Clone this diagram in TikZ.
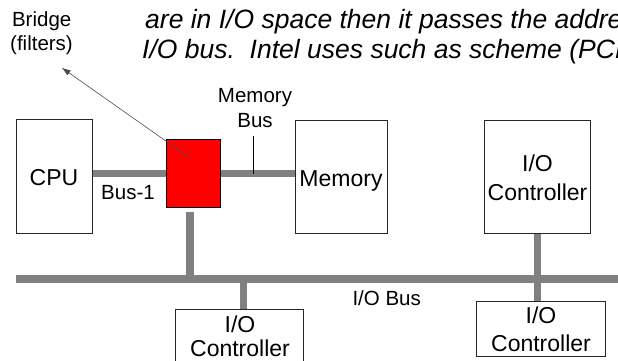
\documentclass[tikz,border=0pt]{standalone}
\usepackage{fontspec}
\setmainfont{Liberation Sans}
\usetikzlibrary{arrows.meta}
\pgfdeclarelayer{bg}
\pgfsetlayers{bg,main}
\begin{document}
\begin{tikzpicture}[x=1pt,y=-1pt,
  box/.style={draw=black!85, line width=0.9pt, fill=white, inner sep=0pt, rectangle},
  bridgebox/.style={draw=black, line width=1.1pt, fill=red, inner sep=0pt, rectangle},
  bar/.style={draw=gray, line width=7.5pt},
  tick/.style={draw=black, line width=1.3pt},
  pointer/.style={draw=black!70, line width=0.6pt, -{Latex[length=9pt,width=6pt]}},
  lbl/.style={font=\fontsize{20.5}{24}\selectfont, inner sep=0pt, anchor=base},
  boxtxt/.style={font=\fontsize{23}{28}\selectfont, inner sep=0pt, anchor=base},
  note/.style={font=\fontsize{26.5}{30}\selectfont\itshape, inner sep=0pt, anchor=base west}]
\useasboundingbox (0,0) rectangle (618,360);
\clip (0,0) rectangle (618,360);

% explanatory text (runs past the right edge)
\node[note] (note1) at (145,28) {are in I/O space then it passes the address to the};
\node[note] (note2) at (142,58.5) {I/O bus.\ \ Intel uses such as scheme (PCI).};

% units
\node[box, minimum width=76pt, minimum height=114pt] (cpu) at (54,176) {};
\node[bridgebox, minimum width=53.5pt, minimum height=68pt] (bridge) at (193.5,173.5) {};
\node[box, minimum width=92pt, minimum height=113pt] (mem) at (341,176.5) {};
\node[box, minimum width=106pt, minimum height=113pt] (ioc1) at (537.7,176.5) {};
\node[box, minimum width=128pt, minimum height=62pt] (ioc2) at (239,340) {};
\node[box, minimum width=129pt, minimum height=55pt] (ioc3) at (540.5,328.5) {};

% box texts
\node[boxtxt] (tcpu) at (54,185) {CPU};
\node[boxtxt] (tmem) at (341,186) {Memory};
\node[boxtxt] (tio1a) at (537.5,171) {I/O};
\node[boxtxt] (tio1b) at (537.5,200) {Controller};
\node[boxtxt] (tio2a) at (240,332) {I/O};
\node[boxtxt] (tio2b) at (240,356) {Controller};
\node[boxtxt] (tio3a) at (541,323) {I/O};
\node[boxtxt] (tio3b) at (541,351) {Controller};

% labels
\node[lbl] (lbridge) at (41.7,26.7) {Bridge};
\node[lbl] (lfilter) at (41.5,50) {(filters)};
\node[lbl] (lmembusA) at (255,102.3) {Memory};
\node[lbl] (lmembusB) at (255,127.3) {Bus};
\node[lbl] (lbus1) at (128,199) {Bus-1};
\node[lbl] (liobus) at (386.7,305.3) {I/O Bus};

% bus bars
\coordinate (busL) at (16,279);
\coordinate (busR) at (618,279);
\begin{pgfonlayer}{bg}
  \draw[bar] (busL) -- (busR);
  \draw[bar] (cpu.east |- bridge.west) -- (bridge.west);
  \draw[bar] (bridge.east) -- (bridge.east -| mem.west);
  \draw[bar] ([xshift=-3.5pt,yshift=-3.5pt]bridge.south) -- ([xshift=-3.5pt]bridge.south |- busL);
  \draw[bar] (ioc1.south) -- (ioc1.south |- ioc3.north);
  \draw[bar] ([xshift=4.3pt]ioc2.north |- busL) -- ([xshift=4.3pt]ioc2.north);
\end{pgfonlayer}

% memory bus marker
\draw[tick] ([xshift=-1.3pt,yshift=-8.7pt]lmembusB.base) -- ([xshift=-1.3pt]lmembusB.base |- bridge.east);

% bridge pointer
\coordinate (bridgetip) at (61.7,67.7);
\draw[pointer] ([xshift=-3.5pt,yshift=15.5pt]bridge.center) -- (bridgetip);
\end{tikzpicture}
\end{document}
